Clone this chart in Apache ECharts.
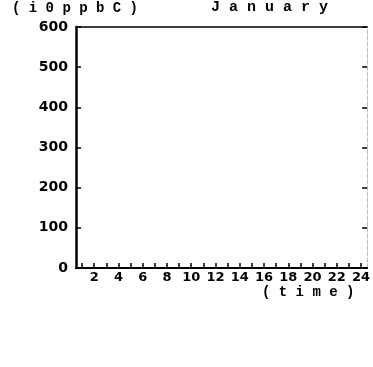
<!DOCTYPE html>
<html><head><meta charset="utf-8">
<script src="https://cdn.jsdelivr.net/npm/echarts@6/dist/echarts.min.js"></script>
<style>html,body{margin:0;padding:0;background:#fff}#c{width:373px;height:367px}</style>
</head><body><div id="c"></div>
<script>
const hours = ['1','2','3','4','5','6','7','8','9','10','11','12','13','14','15','16','17','18','19','20','21','22','23','24'];
const yTicks = [0,100,200,300,400,500,600];
const seriesValues = [];
const unitLabel = '( i 0 p p b C )';
const titleText = 'J a n u a r y';
const xName = '( t i m e )';

const chart = echarts.init(document.getElementById('c'), null, {renderer:'canvas'});
chart.setOption({
  animation:false,
  backgroundColor:'#fff',
  graphic:[
    {type:'text', left:12, top:1, style:{text:unitLabel, font:'bold 14px "Liberation Mono"', fill:'#000'}},
    {type:'text', left:211, top:0, style:{text:titleText, font:'bold 15px "Liberation Mono"', fill:'#000'}},
    {type:'text', left:262, top:285, style:{text:xName, font:'bold 14px "Liberation Mono"', fill:'#000'}}
  ],
  grid:{left:76, right:1, top:27, bottom:99, show:false},
  xAxis:[{
    type:'category', data:hours, boundaryGap:true,
    axisLine:{show:true, onZero:false, lineStyle:{color:'#000', width:2}},
    axisTick:{show:true, inside:true, length:5, alignWithLabel:true, interval:0, lineStyle:{color:'#000', width:1.5}},
    axisLabel:{interval:0, margin:3, formatter:v=> (parseInt(v)%2===0? v : ''),
      color:'#000', fontFamily:'DejaVu Sans', fontWeight:'bold', fontSize:13},
    splitLine:{show:false}
  },{
    type:'category', data:hours, position:'top',
    axisLine:{show:true, onZero:false, lineStyle:{color:'#000', width:1.5}},
    axisTick:{show:false}, axisLabel:{show:false}, splitLine:{show:false}
  }],
  yAxis:[{
    type:'value', min:yTicks[0], max:yTicks[yTicks.length-1], interval:100,
    axisLine:{show:true, onZero:false, lineStyle:{color:'#000', width:2.5}},
    axisTick:{show:true, inside:true, length:5, lineStyle:{color:'#000', width:1.5}},
    axisLabel:{margin:8, color:'#000', fontFamily:'DejaVu Sans', fontWeight:'bold', fontSize:14},
    splitLine:{show:false}
  },{
    type:'value', min:yTicks[0], max:yTicks[yTicks.length-1], interval:100, position:'right',
    axisLine:{show:true, onZero:false, lineStyle:{color:'#bbb', width:1, type:'dashed'}},
    axisTick:{show:true, inside:true, length:5, lineStyle:{color:'#000', width:1.5}},
    axisLabel:{show:false}, splitLine:{show:false}
  }],
  series:[{type:'line', data:seriesValues, symbol:'none', lineStyle:{color:'#000'}}]
});
</script></body></html>
